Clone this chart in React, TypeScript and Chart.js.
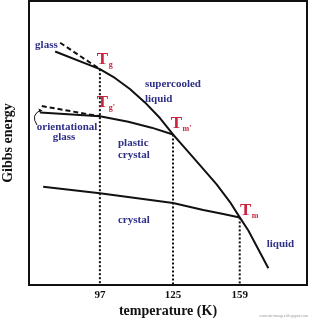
import { useEffect, useRef } from 'react';
import { Chart, registerables } from 'chart.js';
Chart.register(...registerables);

// Schematic coordinates (0-100 on both axes, x not linear in temperature)
const tickPositions = [25.5, 51.8, 75.8];
const tickLabels = ['97', '125', '159'];

// glass -> supercooled liquid -> liquid
const liquidCurve = [
  { x: 9.4, y: 82.2 }, { x: 25.5, y: 76.0 }, { x: 30.9, y: 72.9 }, { x: 36.3, y: 69.0 },
  { x: 41.7, y: 64.3 }, { x: 47.1, y: 58.8 }, { x: 51.8, y: 53.0 }, { x: 54.3, y: 50.2 },
  { x: 60.3, y: 43.5 }, { x: 67.5, y: 35.4 }, { x: 72.3, y: 29.2 }, { x: 75.8, y: 23.8 },
  { x: 78.9, y: 19.2 }, { x: 86.1, y: 5.9 },
];
const glassDashed = [{ x: 11.2, y: 85.3 }, { x: 25.5, y: 76.0 }];
// orientational glass -> plastic crystal
const plasticCurve = [
  { x: 4.0, y: 60.7 }, { x: 25.5, y: 59.4 }, { x: 35.7, y: 57.5 }, { x: 44.1, y: 55.4 }, { x: 51.8, y: 53.0 },
];
const orientDashed = [{ x: 4.6, y: 63.0 }, { x: 25.5, y: 59.4 }];
const crystalCurve = [
  { x: 5.1, y: 34.6 }, { x: 25.5, y: 32.3 }, { x: 51.8, y: 28.9 }, { x: 62.7, y: 26.4 },
  { x: 69.9, y: 25.0 }, { x: 75.8, y: 23.8 },
];
// vertical dotted drops from transition points
const dropTops = [76.0, 53.0, 23.8];

const regionLabels = [
  { text: 'glass', x: 2.2, y: 84.5, align: 'left' },
  { text: 'supercooled', x: 41.7, y: 70.8, align: 'left' },
  { text: 'liquid', x: 41.7, y: 65.5, align: 'left' },
  { text: 'orientational', x: 13.7, y: 55.7, align: 'center' },
  { text: 'glass', x: 12.6, y: 52.1, align: 'center' },
  { text: 'plastic', x: 32.0, y: 50.0, align: 'left' },
  { text: 'crystal', x: 32.0, y: 45.8, align: 'left' },
  { text: 'crystal', x: 32.0, y: 22.9, align: 'left' },
  { text: 'liquid', x: 85.5, y: 14.4, align: 'left' },
];
const tempLabels = [
  { sub: 'g', x: 24.4, y: 77.8 },
  { sub: "g'", x: 24.4, y: 62.6 },
  { sub: "m'", x: 51.0, y: 55.2 },
  { sub: 'm', x: 75.9, y: 24.6 },
];

const SERIF = "'Liberation Serif', 'Times New Roman', serif";
const NAVY = '#2e2f86';
const RED = '#c8233f';

export default function App() {
  const ref = useRef<HTMLCanvasElement>(null);
  useEffect(() => {
    document.body.style.margin = '0';
    const canvas = ref.current!;
    const line = (data: any[], dash: number[] = []) => ({
      data, borderColor: '#111', borderWidth: 2, borderDash: dash, pointRadius: 0,
      tension: 0, fill: false, showLine: true, borderJoinStyle: 'round',
    });
    const drops = tickPositions.map((p, i) => line([{ x: p, y: dropTops[i] }, { x: p, y: 0 }], [2, 2]));
    const overlay = {
      id: 'overlay',
      afterDatasetsDraw(chart: any) {
        const ctx = chart.ctx;
        const xs = chart.scales.x, ys = chart.scales.y;
        const px = (v: number) => xs.getPixelForValue(v);
        const py = (v: number) => ys.getPixelForValue(v);
        ctx.save();
        ctx.fillStyle = NAVY;
        ctx.font = `bold 11px ${SERIF}`;
        ctx.textBaseline = 'middle';
        regionLabels.forEach((l) => {
          ctx.textAlign = l.align;
          ctx.fillText(l.text, px(l.x), py(l.y));
        });
        ctx.fillStyle = RED;
        ctx.textAlign = 'left';
        ctx.textBaseline = 'alphabetic';
        tempLabels.forEach((l) => {
          ctx.font = `bold 17px ${SERIF}`;
          const x = px(l.x), y = py(l.y);
          ctx.fillText('T', x, y);
          const w = ctx.measureText('T').width;
          ctx.font = `bold 8px ${SERIF}`;
          ctx.fillText(l.sub, x + w + 0.5, y + 3);
        });
        // curved arrow to orientational glass
        ctx.strokeStyle = '#111';
        ctx.lineWidth = 1;
        const sx = px(2.9), sy = py(56.3), cx = px(0.4), cy = py(59.9), ex = px(4.3), ey = py(61.6);
        ctx.beginPath();
        ctx.moveTo(sx, sy);
        ctx.quadraticCurveTo(cx, cy, ex, ey);
        ctx.stroke();
        ctx.beginPath();
        ctx.moveTo(ex + 1.5, ey + 0.5);
        ctx.lineTo(ex - 2.5, ey - 1.5);
        ctx.lineTo(ex - 1.5, ey + 2.5);
        ctx.closePath();
        ctx.fillStyle = '#111';
        ctx.fill();
        // frame
        const a = chart.chartArea;
        ctx.lineWidth = 2;
        ctx.strokeRect(a.left, a.top, a.right - a.left, a.bottom - a.top);
        // watermark
        ctx.fillStyle = '#9a9a9a';
        ctx.font = `4px ${SERIF}`;
        ctx.textAlign = 'right';
        ctx.textBaseline = 'middle';
        ctx.fillText('contents-images.blogspot.com', 308, 316);
        ctx.restore();
      },
    };
    const chart = new Chart(canvas, {
      type: 'line',
      data: {
        datasets: [
          ...drops,
          line(glassDashed, [5, 3]),
          line(orientDashed, [5, 3]),
          line(liquidCurve),
          line(plasticCurve),
          line(crystalCurve),
        ] as any,
      },
      options: {
        animation: false,
        responsive: false,
        events: [],
        layout: { padding: { top: 1, right: 2, left: 0, bottom: 0 } },
        plugins: { legend: { display: false }, tooltip: { enabled: false } },
        scales: {
          x: {
            type: 'linear', min: 0, max: 100,
            grid: { display: false, drawTicks: false },
            border: { display: false },
            afterBuildTicks: (s: any) => { s.ticks = tickPositions.map((v) => ({ value: v })); },
            afterFit: (s: any) => { s.height = 36; },
            ticks: {
              color: '#111', padding: 4,
              font: { family: SERIF, size: 11, weight: 'bold' },
              callback: (_v: any, i: number) => tickLabels[i],
            },
            title: {
              display: true, text: 'temperature (K)', color: '#111',
              font: { family: SERIF, size: 14, weight: 'bold' }, padding: { top: 0, bottom: 1 },
            },
          },
          y: {
            type: 'linear', min: 0, max: 100,
            grid: { display: false, drawTicks: false },
            border: { display: false },
            ticks: { display: false },
            afterFit: (s: any) => { s.width = 29; },
            title: {
              display: true, text: 'Gibbs energy', color: '#111',
              font: { family: SERIF, size: 14, weight: 'bold' }, padding: { top: 0, bottom: 0 },
            },
          },
        },
      } as any,
      plugins: [overlay],
    });
    return () => chart.destroy();
  }, []);
  return <canvas ref={ref} width={309} height={321} style={{ display: 'block', width: 309, height: 321 }} />;
}
